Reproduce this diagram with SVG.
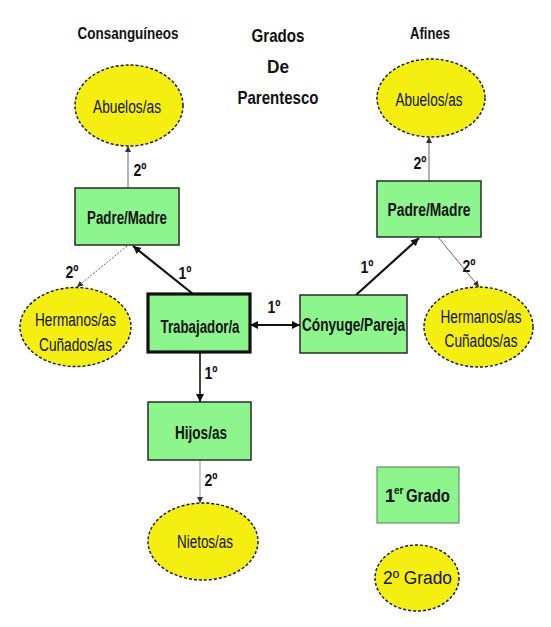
<svg xmlns="http://www.w3.org/2000/svg" width="551" height="627" viewBox="0 0 551 627">
<style>
text{font-family:"Liberation Sans Narrow","Liberation Sans",Arial,sans-serif;fill:#111;text-anchor:middle}
.t{font-size:17px;font-weight:bold}
.tt{font-size:19px;font-weight:bold}
.n{font-size:18px}
.nb{font-size:18px;font-weight:bold}
.lb{font-size:17px;font-weight:bold}
.s{text-anchor:start}
.box{fill:#8cf58c;stroke:#2a2a2a;stroke-width:1.5}
.ell{fill:#f4ef10;stroke:#111;stroke-width:1.4;stroke-dasharray:3 2}
.thin{stroke:#666;stroke-width:1;fill:none}
.dot{stroke:#666;stroke-width:1;fill:none;stroke-dasharray:2 1.5}
.thick{stroke:#111;stroke-width:2.2;fill:none}
</style>
<defs>
<marker id="ah" viewBox="0 0 10 10" refX="10" refY="5" markerWidth="8" markerHeight="8" markerUnits="userSpaceOnUse" orient="auto-start-reverse"><path d="M0,0 L10,5 L0,10 z" fill="#111"/></marker>
<marker id="as" viewBox="0 0 10 10" refX="10" refY="5" markerWidth="6" markerHeight="6" markerUnits="userSpaceOnUse" orient="auto"><path d="M0,0 L10,5 L0,10 z" fill="#333"/></marker>
</defs>
<rect width="551" height="627" fill="#fff"/>
<g id="titles">
<text class="t" x="128" y="39" textLength="101" lengthAdjust="spacingAndGlyphs">Consanguíneos</text>
<text class="tt" x="278" y="42" textLength="53" lengthAdjust="spacingAndGlyphs">Grados</text>
<text class="tt" x="278" y="73" textLength="22" lengthAdjust="spacingAndGlyphs">De</text>
<text class="tt" x="278" y="104" textLength="81" lengthAdjust="spacingAndGlyphs">Parentesco</text>
<text class="t" x="430" y="39" textLength="40" lengthAdjust="spacingAndGlyphs">Afines</text>
</g>
<g id="connectors">
<line class="thin" x1="128" y1="188" x2="128" y2="146" marker-end="url(#as)"/>
<line class="thin" x1="429" y1="181" x2="429" y2="137" marker-end="url(#as)"/>
<line class="dot" x1="127" y1="246" x2="77" y2="287" marker-end="url(#as)"/>
<line class="thick" x1="193" y1="294" x2="133" y2="246" marker-end="url(#ah)"/>
<line class="thick" x1="250" y1="325" x2="300" y2="325" marker-start="url(#ah)" marker-end="url(#ah)"/>
<line class="thick" x1="356" y1="295" x2="419" y2="238" marker-end="url(#ah)"/>
<line class="thin" x1="438" y1="237" x2="479" y2="287" marker-end="url(#as)"/>
<line class="thick" style="stroke-width:1.6" x1="200" y1="352" x2="200" y2="402" marker-end="url(#ah)"/>
<line class="thin" style="stroke:#999" x1="200" y1="460" x2="200" y2="503" marker-end="url(#as)"/>
<text class="lb" x="140" y="176" textLength="13" lengthAdjust="spacingAndGlyphs">2º</text>
<text class="lb" x="420" y="169" textLength="13" lengthAdjust="spacingAndGlyphs">2º</text>
<text class="lb" x="72" y="278" textLength="13" lengthAdjust="spacingAndGlyphs">2º</text>
<text class="lb" x="185" y="279" textLength="13" lengthAdjust="spacingAndGlyphs">1º</text>
<text class="lb" x="274" y="313" textLength="13" lengthAdjust="spacingAndGlyphs">1º</text>
<text class="lb" x="367" y="273" textLength="13" lengthAdjust="spacingAndGlyphs">1º</text>
<text class="lb" x="469" y="272" textLength="13" lengthAdjust="spacingAndGlyphs">2º</text>
<text class="lb" x="211" y="379" textLength="13" lengthAdjust="spacingAndGlyphs">1º</text>
<text class="lb" x="211" y="486" textLength="13" lengthAdjust="spacingAndGlyphs">2º</text>
</g>
<g id="abuelos-c">
<ellipse class="ell" cx="129" cy="105.5" rx="54" ry="40.5"/>
<text class="n" x="127" y="113" textLength="68" lengthAdjust="spacingAndGlyphs">Abuelos/as</text>
</g>
<g id="abuelos-a">
<ellipse class="ell" cx="431" cy="98" rx="54" ry="39"/>
<text class="n" x="429" y="106" textLength="67" lengthAdjust="spacingAndGlyphs">Abuelos/as</text>
</g>
<g id="padre-c">
<rect class="box" x="75" y="188" width="104" height="57"/>
<text class="nb" x="127" y="224" textLength="80" lengthAdjust="spacingAndGlyphs">Padre/Madre</text>
</g>
<g id="padre-a">
<rect class="box" x="377" y="181" width="104" height="56"/>
<text class="nb" x="429" y="216" textLength="83" lengthAdjust="spacingAndGlyphs">Padre/Madre</text>
</g>
<g id="hermanos-c">
<ellipse class="ell" cx="75.5" cy="327" rx="55.5" ry="39.5"/>
<text class="n" x="75.5" y="326" textLength="81" lengthAdjust="spacingAndGlyphs">Hermanos/as</text>
<text class="n" x="75.5" y="351" textLength="73" lengthAdjust="spacingAndGlyphs">Cuñados/as</text>
</g>
<g id="hermanos-a">
<ellipse class="ell" cx="478.5" cy="327" rx="54.5" ry="40"/>
<text class="n" x="481" y="323" textLength="81" lengthAdjust="spacingAndGlyphs">Hermanos/as</text>
<text class="n" x="481" y="347" textLength="73" lengthAdjust="spacingAndGlyphs">Cuñados/as</text>
</g>
<g id="trabajador">
<rect class="box" style="stroke:#111;stroke-width:3.2" x="148" y="294" width="102" height="58"/>
<text class="nb" x="200" y="333" textLength="79" lengthAdjust="spacingAndGlyphs">Trabajador/a</text>
</g>
<g id="conyuge">
<rect class="box" x="300" y="295" width="107" height="58"/>
<text class="nb" x="353.5" y="331" textLength="103" lengthAdjust="spacingAndGlyphs">Cónyuge/Pareja</text>
</g>
<g id="hijos">
<rect class="box" x="148" y="402" width="103" height="58"/>
<text class="nb" x="201" y="439" textLength="52" lengthAdjust="spacingAndGlyphs">Hijos/as</text>
</g>
<g id="nietos">
<ellipse class="ell" cx="203" cy="541.5" rx="55" ry="38.5"/>
<text class="n" x="205" y="548" textLength="56" lengthAdjust="spacingAndGlyphs">Nietos/as</text>
</g>
<g id="leyenda-1">
<rect class="box" style="stroke:#6b8f6b;stroke-width:1.2" x="377" y="467" width="82" height="56"/>
<text class="nb s" x="385" y="502">1</text>
<text class="s" style="font-size:10px;font-weight:bold" x="394" y="494">er</text>
<text class="nb s" x="406" y="502" textLength="44" lengthAdjust="spacingAndGlyphs">Grado</text>
</g>
<g id="leyenda-2">
<ellipse class="ell" cx="417" cy="578" rx="42" ry="33"/>
<text class="n" x="417.5" y="584" textLength="69" lengthAdjust="spacingAndGlyphs">2º Grado</text>
</g>
</svg>
